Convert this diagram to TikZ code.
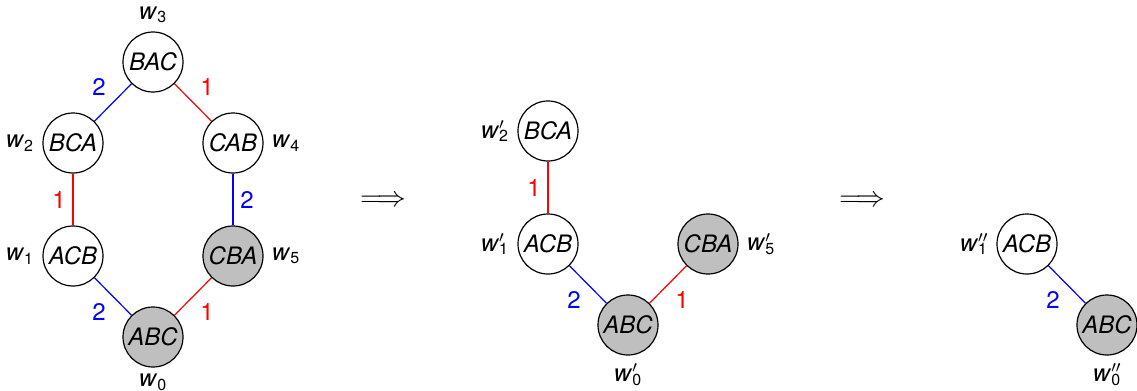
\documentclass[tikz,border=0pt]{standalone}
\usepackage{fontspec}
\setmainfont{TeX Gyre Heros}
\usepackage{tikz}
\usetikzlibrary{positioning}
\tikzstyle{perm} = [circle, draw, minimum size=30pt, inner sep=0pt, font=\large\itshape]
\tikzstyle{goal} = [perm, fill=gray!50]
\tikzstyle{redline} = [draw, red]
\tikzstyle{blueline} = [draw, blue]
\newcommand{\wlab}[2]{\textit{w}\rlap{$^{#2}$}\textsubscript{#1}}

\begin{document}
\begin{tikzpicture}[node distance=40.5pt and 40pt, on grid, label distance=0.5pt, font=\large, line width=0.6pt]
    \useasboundingbox (0,0) rectangle (568.5pt,-195.5pt);
    % first graph
    \node [perm, label=above:{\wlab{3}{}}] (bac) at (76.5pt,-31pt) {BAC};
    \node [perm, below left=of bac, label=left:{\wlab{2}{}}] (bca) {BCA};
    \node [perm, below right=of bac, label=right:{\wlab{4}{}}] (cab) {CAB};
    \node [perm, below=56.5pt of bca, label=left:{\wlab{1}{}}] (acb) {ACB};
    \node [goal, below=56.5pt of cab, label=right:{\wlab{5}{}}] (cba) {CBA};
    \node [goal, below right=of acb, label={[label distance=-0.5pt]below:{\wlab{0}{}}}] (abc) {ABC};

    \path [blueline] (bac) -- node [above left] {2} (bca);
    \path [redline] (bac) -- node [above right] {1} (cab);
    \path [redline] (bca) -- node [left] {1} (acb);
    \path [blueline] (cab) -- node [right] {2} (cba);
    \path [blueline] (acb) -- node [below left] {2} (abc);
    \path [redline] (cba) -- node [below right] {1} (abc);

    \node (step1) at (191.5pt,-100.5pt) {\Large$\Longrightarrow$};

    % second graph
    \node [perm, label=left:{\wlab{2}{\prime}}] (bcaB) at (274pt,-65.5pt) {BCA};
    \node [perm, below=56.5pt of bcaB, label=left:{\wlab{1}{\prime}}] (acbB) {ACB};
    \node [goal, below right=of acbB, label=below:{\wlab{0}{\prime}}] (abcB) {ABC};
    \node [goal, above right=of abcB, label=right:{\wlab{5}{\prime}}] (cbaB) {CBA};

    \path [redline] (bcaB) -- node [left] {1} (acbB);
    \path [blueline] (acbB) -- node [below left] {2} (abcB);
    \path [redline] (abcB) -- node [below right] {1} (cbaB);

    \node (step2) at (431pt,-100.5pt) {\Large$\Longrightarrow$};

    % third graph
    \node [perm, label=left:{\wlab{1}{\prime\prime}}] (acbC) at (513.5pt,-122pt) {ACB};
    \node [goal, below right=of acbC, label=below:{\wlab{0}{\prime\prime}}] (abcC) {ABC};

    \path [blueline] (acbC) -- node [below left] {2} (abcC);
\end{tikzpicture}
\end{document}
